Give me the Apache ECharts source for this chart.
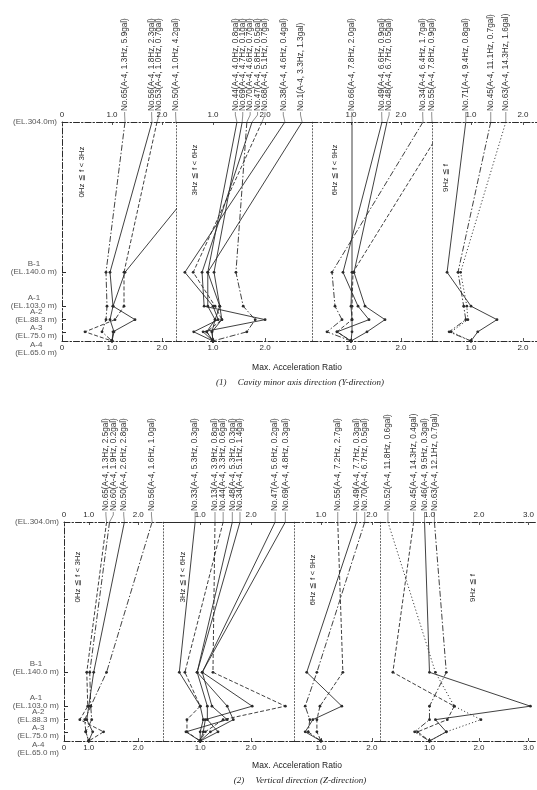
<!DOCTYPE html>
<html><head><meta charset="utf-8">
<script src="https://cdn.jsdelivr.net/npm/echarts@6/dist/echarts.min.js"></script>
<style>html,body{margin:0;padding:0;background:#fff}#c{width:537px;height:790px}</style>
</head><body><div id="c"></div>
<script>
// ---------------- DATA ----------------
const ELEVATIONS = [304, 140, 103, 88.3, 75, 65];
const LEVEL_NAMES = ['', 'B-1', 'A-1', 'A-2', 'A-3', 'A-4'];
const LEVEL_EL = ['(EL.304.0m)', '(EL.140.0 m)', '(EL.103.0 m)', '(EL.88.3 m)', '(EL.75.0 m)', '(EL.65.0 m)'];
const BANDS = ['0Hz ≦ f < 3Hz', '3Hz ≦ f < 6Hz', '6Hz ≦ f < 9Hz', '9Hz ≦ f'];
const AXIS_TITLE = 'Max. Acceleration Ratio';
const CAPTIONS = ['(1)     Cavity minor axis direction (Y-direction)', '(2)     Vertical direction (Z-direction)'];

// tick values / labels per sub-plot
const P1_TICK_VALUES = [[0, 1, 2], [1, 2], [1, 2], [1, 2]];
const P1_TICK_LABELS = [['0', '1.0', '2.0'], ['1.0', '2.0'], ['1.0', '2.0'], ['1.0', '2.0']];
const P2_TICK_VALUES = [[0.5, 1, 2], [1, 2], [1, 2], [1, 2, 3]];
const P2_TICK_LABELS = [['0', '1.0', '2.0'], ['1.0', '2.0'], ['1.0', '2.0'], ['1.0', '2.0', '3.0']];

// (1) Y-direction — values at EL.304, B-1, A-1, A-2, A-3, A-4
const P1_G1_NAMES = ['No.65(A-4, 1.3Hz, 5.9gal)', 'No.56(A-4, 1.8Hz, 2.3gal)', 'No.53(A-4, 1.0Hz, 0.7gal)', 'No.50(A-4, 1.0Hz, 4.2gal)'];
const P1_G1_VALUES = [
  [1.26, 0.88, 0.90, 0.88, 0.80, 1.0],
  [1.80, 0.96, 1.02, 1.46, 1.02, 1.0],
  [1.90, 1.24, 1.24, 1.06, 0.46, 1.0],
  [3.70, 1.26, 1.02, 0.96, 1.04, 1.0]
];
const P1_G2_NAMES = ['No.44(A-4, 4.0Hz, 0.8gal)', 'No.69(A-4, 4.7Hz, 0.1gal)', 'No.70(A-4, 4.6Hz, 0.7gal)', 'No.47(A-4, 5.8Hz, 0.5gal)', 'No.68(A-4, 5.1Hz, 0.7gal)', 'No.38(A-4, 4.6Hz, 0.4gal)', 'No.1(A-4, 3.3Hz, 1.3gal)'];
const P1_G2_VALUES = [
  [1.46, 0.90, 0.90, 1.04, 0.88, 1.0],
  [1.56, 1.02, 1.13, 1.17, 0.98, 1.0],
  [1.65, 1.44, 1.58, 1.81, 1.65, 1.0],
  [1.75, 0.79, 0.83, 2.00, 0.81, 1.0],
  [1.94, 0.62, 1.04, 1.17, 0.88, 1.0],
  [2.38, 0.46, 1.00, 1.10, 0.63, 1.0],
  [2.71, 0.90, 1.13, 1.04, 0.98, 1.0]
];
const P1_G3_NAMES = ['No.66(A-4, 7.8Hz, 2.0gal)', 'No.49(A-4, 6.6Hz, 0.9gal)', 'No.48(A-4, 6.7Hz, 0.5gal)', 'No.34(A-4, 6.4Hz, 1.7gal)', 'No.55(A-4, 7.8Hz, 0.9gal)'];
const P1_G3_VALUES = [
  [1.02, 1.02, 1.00, 1.02, 1.02, 1.0],
  [1.62, 0.84, 1.14, 1.36, 0.72, 1.0],
  [1.72, 1.06, 1.28, 1.68, 1.32, 1.0],
  [2.44, 0.62, 0.68, 0.82, 0.52, 1.0],
  [2.90, 1.04, 1.02, 1.02, 0.72, 1.0]
];
const P1_G4_NAMES = ['No.71(A-4, 9.4Hz, 0.8gal)', 'No.45(A-4, 11.1Hz, 0.7gal)', 'No.63(A-4, 14.3Hz, 1.6gal)'];
const P1_G4_VALUES = [
  [0.90, 0.54, 1.00, 1.50, 1.13, 1.0],
  [1.38, 0.75, 0.86, 0.90, 0.58, 1.0],
  [1.67, 0.80, 0.92, 0.94, 0.62, 1.0]
];

// (2) Z-direction
const P2_G1_NAMES = ['No.65(A-4, 1.3Hz, 2.5gal)', 'No.60(A-4, 1.9Hz, 0.2gal)', 'No.50(A-4, 2.6Hz, 2.8gal)', 'No.56(A-4, 1.6Hz, 1.0gal)'];
const P2_G1_VALUES = [
  [1.36, 0.96, 0.98, 0.82, 1.30, 1.0],
  [1.42, 1.02, 1.04, 0.92, 0.94, 1.0],
  [1.72, 1.10, 1.00, 0.96, 1.08, 1.0],
  [2.28, 1.36, 1.04, 1.06, 0.94, 1.0]
];
const P2_G2_NAMES = ['No.33(A-4, 5.3Hz, 0.3gal)', 'No.13(A-4, 3.9Hz, 0.8gal)', 'No.44(A-4, 3.3Hz, 0.6gal)', 'No.48(A-4, 5.3Hz, 0.3gal)', 'No.34(A-4, 5.1Hz, 1.4gal)', 'No.47(A-4, 5.6Hz, 0.2gal)', 'No.69(A-4, 4.8Hz, 0.3gal)'];
const P2_G2_VALUES = [
  [0.90, 0.59, 1.00, 1.06, 1.00, 1.0],
  [1.29, 1.25, 2.67, 1.45, 1.10, 1.0],
  [1.45, 0.70, 1.00, 0.74, 0.74, 1.0],
  [1.63, 0.94, 1.14, 1.14, 1.35, 1.0],
  [1.78, 0.94, 1.53, 1.65, 1.20, 1.0],
  [2.47, 1.04, 2.02, 1.10, 1.06, 1.0],
  [2.67, 1.04, 1.23, 1.53, 0.72, 1.0]
];
const P2_G3_NAMES = ['No.55(A-4, 7.2Hz, 2.7gal)', 'No.49(A-4, 7.7Hz, 0.3gal)', 'No.70(A-4, 6.7Hz, 0.5gal)'];
const P2_G3_VALUES = [
  [1.33, 1.43, 0.98, 0.92, 0.92, 1.0],
  [1.70, 0.72, 1.41, 0.84, 0.69, 1.0],
  [1.86, 0.92, 0.69, 0.78, 0.75, 1.0]
];
const P2_G4_NAMES = ['No.52(A-4, 11.8Hz, 0.6gal)', 'No.45(A-4, 14.3Hz, 0.4gal)', 'No.46(A-4, 9.5Hz, 0.3gal)', 'No.63(A-4, 12.1Hz, 0.7gal)'];
const P2_G4_VALUES = [
  [0.16, 1.12, 1.50, 2.04, 1.34, 1.0],
  [0.68, 0.26, 1.50, 1.36, 0.76, 1.0],
  [0.90, 1.00, 3.04, 1.12, 1.34, 1.0],
  [1.10, 1.34, 1.00, 1.00, 0.70, 1.0]
];

// ---------------- STYLE / LAYOUT ----------------
const P1_G1_STYLES = ['dashdot', 'solid', 'dash', 'solid'];
const P1_G2_STYLES = ['solid', 'solid', 'dashdot', 'solid', 'dash', 'solid', 'solid'];
const P1_G3_STYLES = ['solid', 'solid', 'solid', 'dashdot', 'dash'];
const P1_G4_STYLES = ['solid', 'dashdot', 'dot'];
const P2_G1_STYLES = ['dash', 'dashdot', 'solid', 'dashdot'];
const P2_G2_STYLES = ['solid', 'dash', 'dash', 'solid', 'solid', 'solid', 'solid'];
const P2_G3_STYLES = ['dash', 'solid', 'dashdot'];
const P2_G4_STYLES = ['dot', 'dash', 'solid', 'dashdot'];

const DASH = { solid: 'solid', dash: [4, 2], dashdot: [6, 2, 1.5, 2], dot: [1.2, 2.2] };
const FONT = 'Liberation Sans';
const INK = '#2b2b2b';

const LAYOUT = {
  panels: [{ top: 122, height: 219 }, { top: 522, height: 219 }],
  grids: [
    [{ left: 62, width: 114, min: 0, max: 2.28 }, { left: 176, width: 136, min: 0.29, max: 2.9 },
     { left: 312, width: 120, min: 0.22, max: 2.62 }, { left: 432, width: 105, min: 0.25, max: 2.27 }],
    [{ left: 64, width: 99, min: 0.5, max: 2.5 }, { left: 163, width: 131, min: 0.27, max: 2.84 },
     { left: 294, width: 86, min: 0.47, max: 2.16 }, { left: 380, width: 157, min: 0, max: 3.14 }]
  ],
  axisLine: [
    [{ top: 'dashdot', bottom: 'dashdot' }, { top: 'solid', bottom: 'dashdot' }, { top: 'dashdot', bottom: 'dashdot' }, { top: 'dashdot', bottom: 'dashdot' }],
    [{ top: 'dashdot', bottom: 'dashdot' }, { top: 'solid', bottom: 'dashdot' }, { top: 'dashdot', bottom: 'dashdot' }, { top: 'dashdot', bottom: 'dashdot' }]
  ],
  bandPos: [[[82, 172], [195, 170], [335, 170], [446, 178]], [[78, 577], [183, 577], [313, 580], [473, 588]]],
  titlePos: [[297, 368], [297, 766]],
  captionPos: [[300, 383], [300, 781]]
};

const PANELS = [
  [
    { names: P1_G1_NAMES, values: P1_G1_VALUES, styles: P1_G1_STYLES },
    { names: P1_G2_NAMES, values: P1_G2_VALUES, styles: P1_G2_STYLES },
    { names: P1_G3_NAMES, values: P1_G3_VALUES, styles: P1_G3_STYLES },
    { names: P1_G4_NAMES, values: P1_G4_VALUES, styles: P1_G4_STYLES }
  ],
  [
    { names: P2_G1_NAMES, values: P2_G1_VALUES, styles: P2_G1_STYLES },
    { names: P2_G2_NAMES, values: P2_G2_VALUES, styles: P2_G2_STYLES },
    { names: P2_G3_NAMES, values: P2_G3_VALUES, styles: P2_G3_STYLES },
    { names: P2_G4_NAMES, values: P2_G4_VALUES, styles: P2_G4_STYLES }
  ]
];
const TICK_VALUES = [P1_TICK_VALUES, P2_TICK_VALUES];
const TICK_LABELS = [P1_TICK_LABELS, P2_TICK_LABELS];

function levelLabel(v) {
  const i = ELEVATIONS.findIndex(e => Math.abs(e - v) < 1e-6);
  if (i < 0) return '';
  if (i === 0) return '{e|' + LEVEL_EL[0] + '}';
  if (i <= 3) return '{n|' + LEVEL_NAMES[i] + '}\n{e|' + LEVEL_EL[i] + '}\n{b| }';
  if (i === 4) return '{n|' + LEVEL_NAMES[i] + '}\n{e|' + LEVEL_EL[i] + '}';
  return '{b| }\n{b| }\n{n|' + LEVEL_NAMES[i] + '}\n{e|' + LEVEL_EL[i] + '}';
}

const chart = echarts.init(document.getElementById('c'), null, { renderer: 'canvas', width: 537, height: 790 });
const grid = [], xAxis = [], yAxis = [], series = [];

LAYOUT.grids.forEach((row, p) => row.forEach((gl, k) => {
  const g = p * 4 + k;
  grid.push({ left: gl.left, top: LAYOUT.panels[p].top, width: gl.width, height: LAYOUT.panels[p].height });
  const tv = TICK_VALUES[p][k], tl = TICK_LABELS[p][k];
  const fmt = v => { const i = tv.findIndex(t => Math.abs(t - v) < 1e-6); return i >= 0 ? tl[i] : ''; };
  ['top', 'bottom'].forEach(pos => {
    xAxis.push({
      type: 'value', gridIndex: g, position: pos, min: gl.min, max: gl.max,
      axisLine: { show: true, onZero: false, lineStyle: { color: INK, width: 1, type: DASH[LAYOUT.axisLine[p][k][pos]] } },
      axisTick: { show: true, customValues: tv, length: 3, inside: true, lineStyle: { color: INK, width: 0.8 } },
      axisLabel: { show: true, customValues: tv, formatter: fmt, margin: 3, fontSize: 8, fontFamily: FONT, color: INK, showMinLabel: true, showMaxLabel: true },
      splitLine: { show: false }
    });
  });
  const first = k === 0;
  yAxis.push({
    type: 'value', gridIndex: g, min: 65, max: 304,
    axisLine: { show: true, lineStyle: { color: first ? INK : '#555', width: first ? 1 : 0.9, type: first ? DASH.dashdot : [1.2, 2] } },
    axisTick: { show: first, customValues: [140, 103, 88.3, 75], length: 4, inside: true, lineStyle: { color: INK } },
    axisLabel: { show: false },
    splitLine: { show: false }
  });
  if (first) {
    // elevation level labels, placed through the axes at each elevation
    series.push({
      type: 'scatter', xAxisIndex: 2 * g, yAxisIndex: g, silent: true, animation: false,
      symbolSize: 0, clip: false,
      data: ELEVATIONS.map(e => [gl.min, e]),
      label: {
        show: true, position: 'left', distance: 5, formatter: prm => levelLabel(prm.value[1]),
        fontFamily: FONT, color: INK, fontSize: 8,
        rich: {
          n: { fontSize: 8, fontFamily: FONT, color: INK, align: 'center', lineHeight: 8 },
          e: { fontSize: 8, fontFamily: FONT, color: INK, lineHeight: 8 },
          b: { fontSize: 8, lineHeight: 8 }
        }
      },
      labelLayout: { hideOverlap: false }
    });
  }
}));

PANELS.forEach((panel, p) => panel.forEach((grp, k) => {
  const g = p * 4 + k;
  grp.names.forEach((name, s) => {
    series.push({
      type: 'line', name, xAxisIndex: 2 * g, yAxisIndex: g,
      data: grp.values[s].map((v, i) => [v, ELEVATIONS[i]]),
      symbol: 'circle', symbolSize: (val, prm) => prm.dataIndex === 0 ? 0 : 2.8,
      showSymbol: true, showAllSymbol: true,
      lineStyle: { color: INK, width: 0.9, type: DASH[grp.styles[s]] },
      itemStyle: { color: INK }, clip: true, silent: true, animation: false, z: 3
    });
  });
}));

chart.setOption({ backgroundColor: '#fff', animation: false, grid, xAxis, yAxis, series });

// ------------- annotations (labels positioned through the axes) -------------
const gfx = [];
const GAP = 7.4;
PANELS.forEach((panel, p) => panel.forEach((grp, k) => {
  const g = p * 4 + k;
  const gl = LAYOUT.grids[p][k];
  const pts = grp.names.map((name, s) => {
    const v = Math.min(grp.values[s][0], gl.max);
    const pt = chart.convertToPixel({ xAxisIndex: 2 * g, yAxisIndex: g }, [v, ELEVATIONS[0]]);
    return { name, px: pt[0], py: pt[1] };
  });
  const order = pts.map((_, i) => i).sort((a, b) => pts[a].px - pts[b].px);
  const L = [];
  let prev = -Infinity;
  order.forEach(i => { const x = Math.max(pts[i].px, prev + GAP); L[i] = x; prev = x; });
  const meanP = pts.reduce((a, q) => a + q.px, 0) / pts.length;
  const meanL = L.reduce((a, q) => a + q, 0) / L.length;
  const shift = Math.max(0, (meanL - meanP) * 0.6);
  pts.forEach((q, i) => {
    const lx = L[i] - shift;
    const top = q.py;
    gfx.push({
      type: 'text', x: lx, y: top - 11, rotation: Math.PI / 2, silent: true,
      style: { text: q.name, fontSize: 8.2, fontFamily: FONT, fill: '#333', align: 'left', verticalAlign: 'middle' }
    });
    gfx.push({
      type: 'polyline', silent: true,
      shape: { points: [[lx, top - 10], [lx, top - 7], [q.px, top]] },
      style: { stroke: '#444', lineWidth: 0.6, fill: null }
    });
  });
  const bp = LAYOUT.bandPos[p][k];
  gfx.push({
    type: 'text', x: bp[0], y: bp[1], rotation: Math.PI / 2, silent: true,
    style: { text: BANDS[k], fontSize: 8, fontFamily: FONT, fill: INK, align: 'center', verticalAlign: 'middle' }
  });
}));
[0, 1].forEach(p => {
  gfx.push({
    type: 'text', x: LAYOUT.titlePos[p][0], y: LAYOUT.titlePos[p][1], silent: true,
    style: { text: AXIS_TITLE, fontSize: 8.5, fontFamily: FONT, fill: '#222', align: 'center', verticalAlign: 'middle' }
  });
  gfx.push({
    type: 'text', x: LAYOUT.captionPos[p][0], y: LAYOUT.captionPos[p][1], silent: true,
    style: { text: CAPTIONS[p], fontSize: 9, fontFamily: 'Liberation Serif', fontStyle: 'italic', fill: '#222', align: 'center', verticalAlign: 'middle' }
  });
});
chart.setOption({ graphic: gfx });
</script>
</body></html>
